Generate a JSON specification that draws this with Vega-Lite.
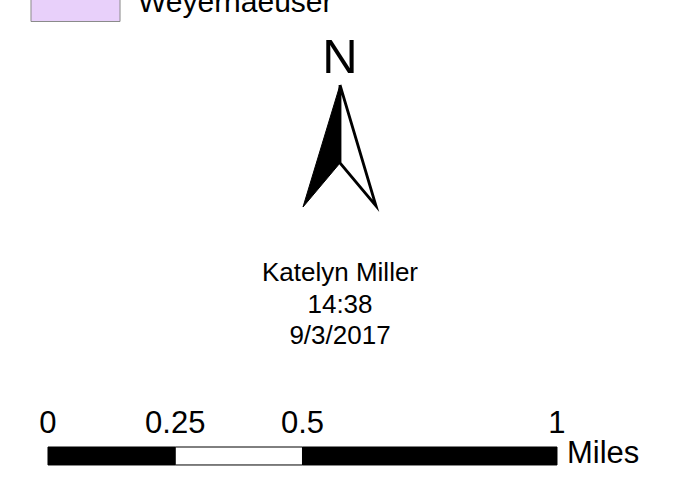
{
  "$schema": "https://vega.github.io/schema/vega-lite/v6.json",
  "width": 694,
  "height": 486,
  "padding": 0,
  "autosize": {"type": "fit", "contains": "padding"},
  "background": "white",
  "config": {"view": {"stroke": null}, "font": "Liberation Sans"},
  "layer": [
    {
      "data": {"values": [{"owner": "Weyerhaeuser", "x0": -0.0334, "x1": 0.1415, "y0": 0.9126, "y1": 0.9646}]},
      "mark": {"type": "rect", "fill": "#e8d0fa", "stroke": "#8a8a8a", "strokeWidth": 1, "clip": true},
      "encoding": {
        "x": {"field": "x0", "type": "quantitative", "scale": {"domain": [-0.0943, 1.26916], "nice": false, "zero": false}, "axis": null},
        "x2": {"field": "x1"},
        "y": {"field": "y0", "type": "quantitative", "scale": {"domain": [0, 0.95481], "nice": false, "zero": false}, "axis": null},
        "y2": {"field": "y1"}
      }
    },
    {
      "data": {"values": [{"label": "Weyerhaeuser", "x": 0.1768, "y": 0.9312}]},
      "mark": {"type": "text", "align": "left", "baseline": "alphabetic", "fontSize": 30, "font": "Liberation Sans", "color": "black", "clip": true},
      "encoding": {
        "x": {"field": "x", "type": "quantitative"},
        "y": {"field": "y", "type": "quantitative"},
        "text": {"field": "label"}
      }
    },
    {
      "data": {"values": [{"label": "N", "x": 0.5737, "y": 0.8114}]},
      "mark": {"type": "text", "align": "center", "baseline": "alphabetic", "fontSize": 49, "font": "Liberation Sans", "color": "black"},
      "encoding": {
        "x": {"field": "x", "type": "quantitative"},
        "y": {"field": "y", "type": "quantitative"},
        "text": {"field": "label"}
      }
    },
    {
      "data": {"values": [
        {"part": "left", "order": 1, "x": 0.5737, "y": 0.7878},
        {"part": "left", "order": 2, "x": 0.5010, "y": 0.5481},
        {"part": "left", "order": 3, "x": 0.5737, "y": 0.6346},
        {"part": "left", "order": 4, "x": 0.5737, "y": 0.7878}
      ]},
      "mark": {"type": "line", "fill": "black", "stroke": "black", "strokeWidth": 1, "strokeJoin": "miter", "strokeMiterLimit": 20},
      "encoding": {
        "x": {"field": "x", "type": "quantitative"},
        "y": {"field": "y", "type": "quantitative"},
        "order": {"field": "order"}
      }
    },
    {
      "data": {"values": [
        {"part": "right", "order": 1, "x": 0.5737, "y": 0.7878},
        {"part": "right", "order": 2, "x": 0.5737, "y": 0.6346},
        {"part": "right", "order": 3, "x": 0.6444, "y": 0.5501},
        {"part": "right", "order": 4, "x": 0.5737, "y": 0.7878}
      ]},
      "mark": {"type": "line", "fill": "white", "stroke": "black", "strokeWidth": 2.8, "strokeJoin": "miter", "strokeMiterLimit": 20},
      "encoding": {
        "x": {"field": "x", "type": "quantitative"},
        "y": {"field": "y", "type": "quantitative"},
        "order": {"field": "order"}
      }
    },
    {
      "data": {"values": [
        {"label": "Katelyn Miller", "x": 0.5737, "y": 0.4028},
        {"label": "14:38", "x": 0.5737, "y": 0.3399},
        {"label": "9/3/2017", "x": 0.5737, "y": 0.2790}
      ]},
      "mark": {"type": "text", "align": "center", "baseline": "alphabetic", "fontSize": 26, "font": "Liberation Sans", "color": "black"},
      "encoding": {
        "x": {"field": "x", "type": "quantitative"},
        "y": {"field": "y", "type": "quantitative"},
        "text": {"field": "label"}
      }
    },
    {
      "data": {"values": [
        {"from": 0, "to": 0.25, "y0": 0.0413, "y1": 0.0766, "shade": "black"},
        {"from": 0.25, "to": 0.5, "y0": 0.0413, "y1": 0.0766, "shade": "white"},
        {"from": 0.5, "to": 1, "y0": 0.0413, "y1": 0.0766, "shade": "black"}
      ]},
      "mark": {"type": "rect", "stroke": "black", "strokeWidth": 1},
      "encoding": {
        "x": {"field": "from", "type": "quantitative"},
        "x2": {"field": "to"},
        "y": {"field": "y0", "type": "quantitative"},
        "y2": {"field": "y1"},
        "fill": {"field": "shade", "type": "nominal", "scale": {"domain": ["black", "white"], "range": ["black", "white"]}, "legend": null}
      }
    },
    {
      "data": {"values": [
        {"label": "0", "x": 0, "y": 0.1041},
        {"label": "0.25", "x": 0.25, "y": 0.1041},
        {"label": "0.5", "x": 0.5, "y": 0.1041},
        {"label": "1", "x": 1, "y": 0.1041}
      ]},
      "mark": {"type": "text", "align": "center", "baseline": "alphabetic", "fontSize": 31, "font": "Liberation Sans", "color": "black"},
      "encoding": {
        "x": {"field": "x", "type": "quantitative"},
        "y": {"field": "y", "type": "quantitative"},
        "text": {"field": "label"}
      }
    },
    {
      "data": {"values": [{"label": "Miles", "x": 1.0196, "y": 0.0452}]},
      "mark": {"type": "text", "align": "left", "baseline": "alphabetic", "fontSize": 31, "font": "Liberation Sans", "color": "black"},
      "encoding": {
        "x": {"field": "x", "type": "quantitative"},
        "y": {"field": "y", "type": "quantitative"},
        "text": {"field": "label"}
      }
    }
  ]
}
